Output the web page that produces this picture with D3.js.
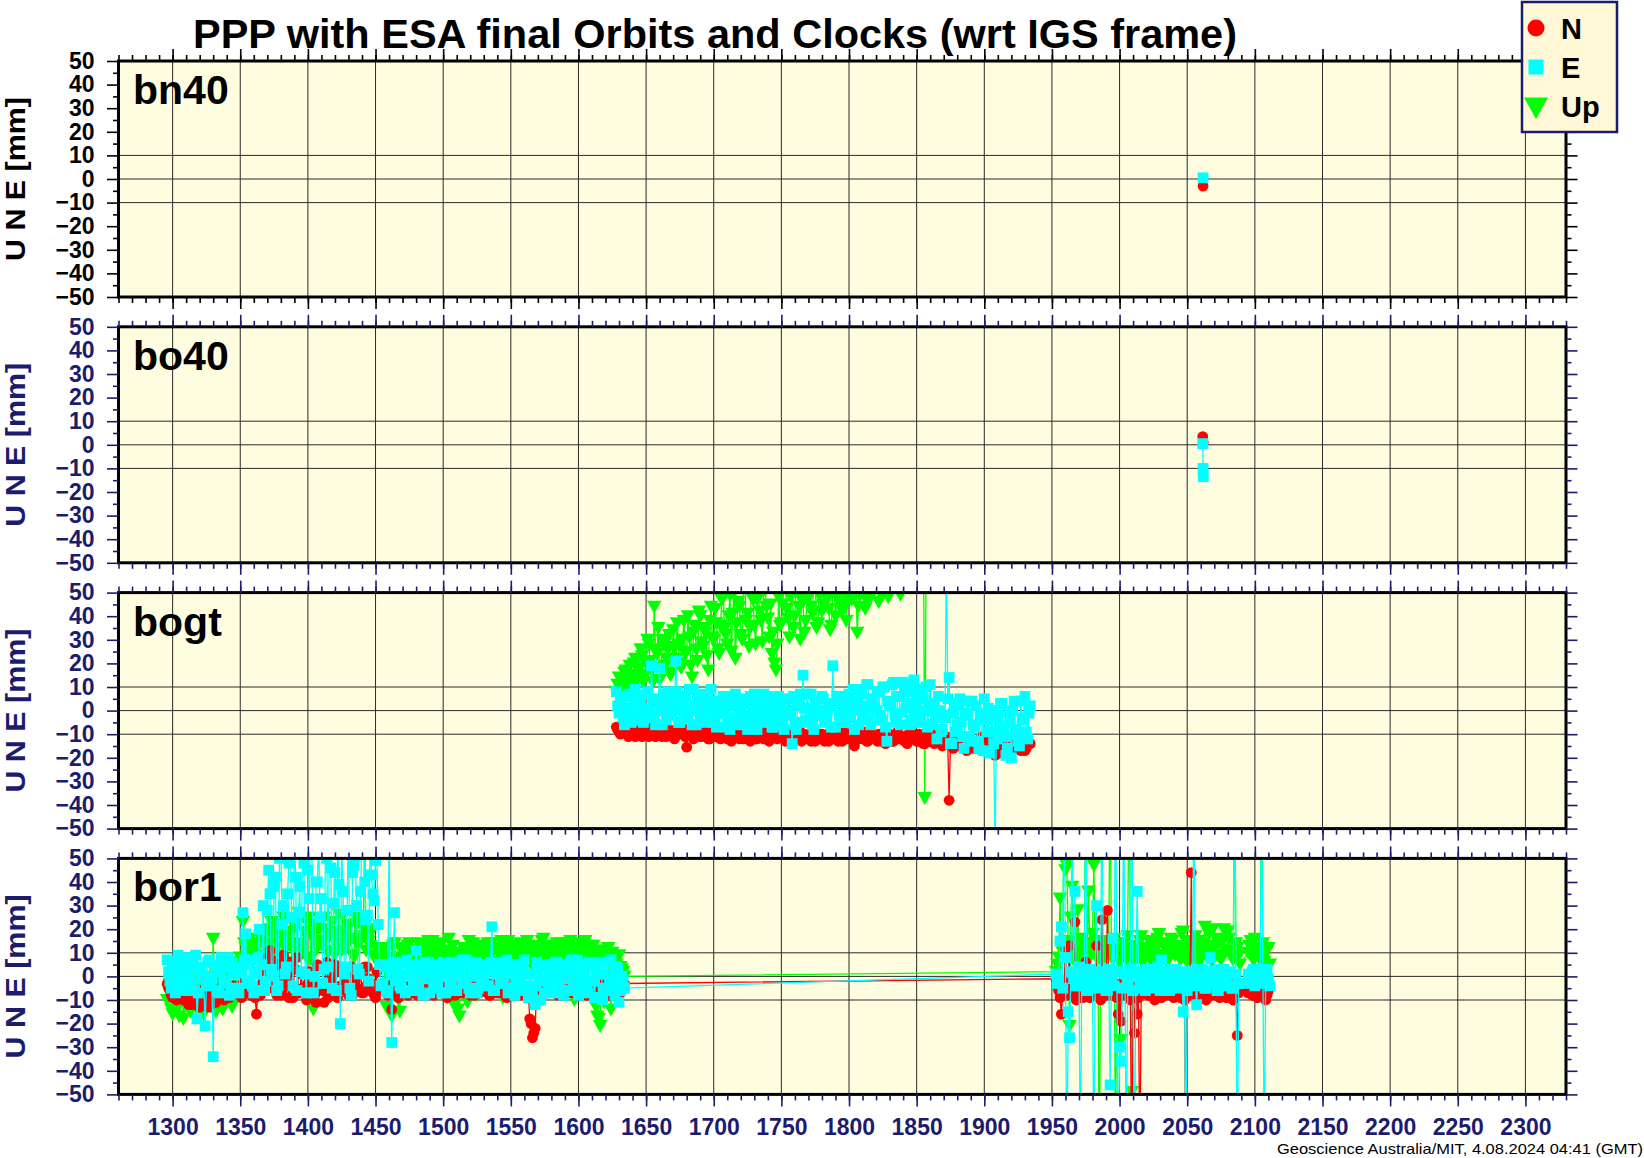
<!DOCTYPE html>
<html><head><meta charset="utf-8">
<script src="https://cdn.jsdelivr.net/npm/d3@7"></script>
<style>body{margin:0;background:#fff;}svg{display:block;}</style>
</head><body>
<script>
// ---------------- DATA ----------------
const titleText = "PPP with ESA final Orbits and Clocks (wrt IGS frame)";
const footerText = "Geoscience Australia/MIT, 4.08.2024 04:41 (GMT)";
const stationNames = ["bn40", "bo40", "bogt", "bor1"];
const legendLabels = ["N", "E", "Up"];
const xDomain = [1260, 2330];
const yDomain = [-50, 50];
const xLabelTicks = [1300,1350,1400,1450,1500,1550,1600,1650,1700,1750,1800,1850,1900,1950,2000,2050,2100,2150,2200,2250,2300];
const yLabelTicks = [-50,-40,-30,-20,-10,0,10,20,30,40,50];
const yGridTicks = [-10, 0, 10];

// bn40
const bn40NWeeks = [2061.7];
const bn40N = [-3];
const bn40EWeeks = [2061.7];
const bn40E = [0.5];

// bo40
const bo40NWeeks = [2061.5, 2061.8];
const bo40N = [3.5, 1];
const bo40EWeeks = [2061.5, 2061.7, 2061.9];
const bo40E = [0.5, -10, -13.5];

// bogt (even GPS weeks)
const bogtWeeks = [1628,1630,1632,1634,1636,1638,1640,1642,1644,1646,
1648,1650,1652,1654,1656,1658,1660,1662,1664,1666,
1668,1670,1672,1674,1676,1678,1680,1682,1684,1686,
1688,1690,1692,1694,1696,1698,1700,1702,1704,1706,
1708,1710,1712,1714,1716,1718,1720,1722,1724,1726,
1728,1730,1732,1734,1736,1738,1740,1742,1744,1746,
1748,1750,1752,1754,1756,1758,1760,1762,1764,1766,
1768,1770,1772,1774,1776,1778,1780,1782,1784,1786,
1788,1790,1792,1794,1796,1798,1800,1802,1804,1806,
1808,1810,1812,1814,1816,1818,1820,1822,1824,1826,
1828,1830,1832,1834,1836,1838,1840,1842,1844,1846,
1848,1850,1852,1854,1856,1858,1860,1862,1864,1866,
1868,1870,1872,1874,1876,1878,1880,1882,1884,1886,
1888,1890,1892,1894,1896,1898,1900,1902,1904,1906,
1908,1910,1912,1914,1916,1918,1920,1922,1924,1926,
1928,1930,1932,1934];
const bogtE = [8,-1,4,-6,6,1,-4,9,-2,3,
-5,7,0,19,-3,5,18,-6,2,8,
-1,4,21,-5,6,0,-3,9,-6,2,
5,-2,7,-5,3,9,-1,-7,4,1,
6,-3,-8,2,7,-4,0,5,-6,3,
-2,7,-8,1,4,-5,6,-1,-7,3,
6,-3,-8,0,5,-14,-6,2,7,15,
-4,1,7,-8,4,-2,6,-5,0,3,
19,-7,3,6,-2,-5,7,0,-8,4,
9,-3,2,11,-6,5,0,8,-4,10,
-13,3,11,-2,6,-6,12,1,8,-4,
13,4,-5,9,0,-7,11,2,-3,6,
-9,-2,70,14,-14,3,-6,5,-11,-1,
4,-13,-6,2,-16,-3,5,-9,-18,0,
-60,-12,3,-7,-19,-1,-20,4,-10,-15,
-4,6,-12,2];
const bogtN = [-7,-9,-6,-8,-10,-7,-9,-11,-8,-10,
-7,-9,-11,-8,-10,-6,-9,-11,-8,-10,
-9,-11,-8,-10,-7,-9,-15.5,-10,-8,-11,
-9,-11,-8,-10,-12,-9,-7,-10,-11,-8,
-10,-12,-9,-7,-11,-10,-8,-12,-9,-11,
-8,-10,-12,-9,-11,-7,-10,-12,-9,-11,
-10,-8,-12,-9,-11,-13,-10,-12,-9,-11,
-12,-10,-13,-9,-11,-12,-10,-13,-11,-9,
-12,-10,-13,-11,-9,-12,-10,-11,-15,-12,
-10,-12,-11,-13,-9,-11,-12,-10,-13,-11,
-12,-10,-13,-11,-9,-12,-11,-13,-10,-12,
-11,-13,-10,-12,-14,-11,-13,-12,-10,-13,
-12,-14,-11,-38,-13,-12,-14,-11,-15,-13,
-14,-12,-16,-13,-15,-11,-17,-14,-12,-16,
-19,-14,-16,-13,-17,-15,-18,-14,-16,-13,
-15,-17,-12,-14];
const bogtU = [8,14,10,16,12,19,9,22,15,26,
12,20,28,17,44,24,13,30,19,26,
15,34,22,28,18,38,25,31,14,36,
21,40,27,33,17,44,30,37,24,47,
35,28,49,41,22,46,32,52,38,27,
54,36,47,42,29,51,39,45,33,17,
48,37,53,43,31,55,40,50,30,46,
38,52,44,57,35,49,42,54,47,34,
51,40,56,45,50,38,53,47,58,33,
49,55,43,60,48,52,57,46,54,50,
56,51,58,53,62,49,66,60,70,64,
68,75,62,70,-37,72,78,66,74,80,
71,77,69,82,75,68,79,73,84,70,
76,81,72,85,78,74,83,69,80,77,
86,72,79,83,75,81,70,78,84,73,
80,76,82,74];

// bogt (odd GPS weeks)
const bogtOddWeeks = [1629,1631,1633,1635,1637,1639,1641,1643,1645,1647,
1649,1651,1653,1655,1657,1659,1661,1663,1665,1667,
1669,1671,1673,1675,1677,1679,1681,1683,1685,1687,
1689,1691,1693,1695,1697,1699,1701,1703,1705,1707,
1709,1711,1713,1715,1717,1719,1721,1723,1725,1727,
1729,1731,1733,1735,1737,1739,1741,1743,1745,1747,
1749,1751,1753,1755,1757,1759,1761,1763,1765,1767,
1769,1771,1773,1775,1777,1779,1781,1783,1785,1787,
1789,1791,1793,1795,1797,1799,1801,1803,1805,1807,
1809,1811,1813,1815,1817,1819,1821,1823,1825,1827,
1829,1831,1833,1835,1837,1839,1841,1843,1845,1847,
1849,1851,1853,1855,1857,1859,1861,1863,1865,1867,
1869,1871,1873,1875,1877,1879,1881,1883,1885,1887,
1889,1891,1893,1895,1897,1899,1901,1903,1905,1907,
1909,1911,1913,1915,1917,1919,1921,1923,1925,1927,
1929,1931,1933];
const bogtEOdd = [2,5,-3,0,7,-5,3,-1,6,-4,
1,8,-2,4,-6,3,0,7,-4,5,
-2,1,8,-5,3,6,-3,0,9,-6,
2,-1,6,-4,4,1,
-5,3,-1,6,-7,2,-3,5,-6,1,
4,-2,-8,6,0,-5,3,-1,7,-4,
2,-7,5,-3,1,-6,4,0,-2,6,
-8,3,-5,1,7,-3,-6,4,0,-1,
5,-4,2,-7,3,6,-2,-5,1,4,
-3,9,2,-6,7,0,11,-4,5,1,
8,-2,10,-7,4,2,12,-5,6,-1,
9,3,-6,11,0,7,-3,5,10,1,
-6,3,-12,0,-8,-3,5,-14,-1,-9,
2,-5,-16,-2,-11,4,-7,-13,-1,-17,
-4,1,-9,-14,-2,-6,3,-11,-16,-5,
0,-8,-13,4,-3,-9,-1];
const bogtNOdd = [-8,-10,-7,-9,-11,-8,-10,-6,-9,-11,
-8,-10,-9,-7,-11,-10,-8,-9,-11,-8,
-10,-12,-9,-7,-10,-11,-8,-9,-12,-10,
-8,-11,-9,-10,-12,-9,
-11,-9,-12,-10,-8,-11,-13,-10,-9,-12,
-10,-11,-9,-13,-10,-12,-11,-9,-12,-10,
-13,-11,-10,-12,-9,-11,-13,-10,-12,-11,
-9,-12,-13,-10,-11,-12,-9,-13,-11,-10,
-12,-11,-13,-10,-12,-9,-11,-13,-12,-10,
-11,-13,-10,-12,-11,-9,-13,-12,-10,-11,
-13,-12,-10,-14,-11,-12,-13,-10,-12,-11,
-13,-14,-11,-12,-10,-13,-12,-14,-11,-13,
-12,-14,-13,-11,-15,-12,-14,-13,-16,-12,
-15,-13,-14,-17,-12,-15,-13,-16,-14,-12,
-17,-15,-13,-16,-14,-18,-13,-15,-17,-14,
-16,-12,-15,-17,-13,-16,-14];
const bogtUOdd = [11,7,13,17,10,15,20,13,18,
23,15,30,21,12,26,35,18,28,22,
32,16,27,37,20,30,24,40,19,33,
26,42,29,35,23,38,31,
43,26,36,48,32,40,25,50,37,44,
30,53,41,35,47,28,49,38,55,44,
31,24,20,28,36,
45,52,39,48,35,56,44,50,33,47,
54,41,58,37,50,45,53,43,36,55,
48,60,42,51,46,
55,49,61,44,53,58,47,63,51,56,
59,50,62,54,48,60,57,52,64,58,
62,68,59,71,65,73,60,77,67,70,
74,66,79,72,76,69,81,73,68,78,
75,83,70,79,74,86,71,80,77,84,
72,79,85,74,81,76,88,73,82,78,
75,84,71,80,77,83,76];

// bor1, first segment (even weeks)
const bor1AWeeks = [1296,1298,1300,1302,1304,1306,1308,1310,1312,1314,
1316,1318,1320,1322,1324,1326,1328,1330,1332,1334,
1336,1338,1340,1342,1344,1346,1348,1350,1352,1354,
1356,1358,1360,1362,1364,1366,1368,1370,1372,1374,
1376,1378,1380,1382,1384,1386,1388,1390,1392,1394,
1396,1398,1400,1402,1404,1406,1408,1410,1412,1414,
1416,1418,1420,1422,1424,1426,1428,1430,1432,1434,
1436,1438,1440,1442,1444,1446,1448,1450,1452,1454,
1456,1458,1460,1462,1464,1466,1468,1470,1472,1474,
1476,1478,1480,1482,1484,1486,1488,1490,1492,1494,
1496,1498,1500,1502,1504,1506,1508,1510,1512,1514,
1516,1518,1520,1522,1524,1526,1528,1530,1532,1534,
1536,1538,1540,1542,1544,1546,1548,1550,1552,1554,
1556,1558,1560,1562,1564,1566,1568,1570,1572,1574,
1576,1578,1580,1582,1584,1586,1588,1590,1592,1594,
1596,1598,1600,1602,1604,1606,1608,1610,1612,1614,
1616,1618,1620,1622,1624,1626,1628,1630,1632,1634];
const bor1AE = [7,-2,3,-7,9,0,-5,5,-3,8,
-6,-18,4,-1,-21,6,-4,-34,2,-7,
8,-2,4,-8,6,1,-5,3,27,18,
-3,7,-7,2,20,5,-6,28,35,0,
42,-4,55,30,4,48,25,60,-6,38,
52,1,45,65,-7,40,58,33,3,50,
62,-5,44,56,-20,36,4,70,-8,47,
30,1,58,40,26,64,35,49,22,-4,
5,-6,60,-28,27,2,-4,6,-7,1,
4,-3,11,-6,2,6,-1,-7,3,5,
-4,0,6,-7,3,-2,5,-6,1,7,
-3,4,-7,2,6,-5,0,5,-4,3,
21,-6,1,6,-3,4,-7,2,5,-2,
-6,3,7,-4,1,-7,-12,4,-10,0,
5,-3,2,-7,6,-1,4,-6,1,7,
-4,3,-8,5,0,-5,6,-2,-9,2,
6,-10,1,-6,7,-3,4,-11,0,-5];
const bor1AN = [-3,-6,-9,-4,-8,-5,-10,-7,-12,-6,
-11,-8,-13,-6,-10,-12,-7,-9,-11,-5,
-8,-10,-6,-9,-4,-7,-5,-8,-3,-6,
-5,-8,-4,-16,-6,-3,2,8,11,-2,
-6,5,-8,9,-4,-9,6,3,8,-7,
-5,2,-3,-9,-6,-11,4,-4,-11,6,
3,-7,5,-9,-4,2,-6,-8,4,1,
-5,3,-7,4,4,-6,-3,-9,-4,-5,
-3,-6,-4,-14,-5,-7,-3,-6,-4,-8,
-5,-7,-3,-6,-8,-4,-6,-3,-7,-5,
-4,-7,-5,-3,-6,-8,-4,-6,-5,-7,
-3,-6,-8,-4,-5,-7,-3,-6,-4,-8,
-5,-3,-7,-4,-6,-8,-5,-3,-6,-4,
-7,-5,-4,-6,-18,-26,-22,-9,-5,-7,
-4,-6,-3,-7,-5,-4,-8,-6,-3,-5,
-7,-4,-6,-5,-3,-8,-4,-6,-7,-5,
-3,-6,-4,-8,-5,-7,-4,-6,-5,-3];
const bor1AU = [-10,-3,-16,2,-13,-7,-18,-2,-12,0,
-8,-14,3,-6,-11,-9,-4,16,-15,1,
-7,-12,4,-5,-13,6,-8,8,23,12,
10,14,7,12,9,15,18,11,20,13,
22,8,17,25,12,19,6,21,14,24,
10,18,22,7,-14,15,20,13,25,11,
17,23,9,19,14,26,12,21,16,8,
22,15,24,60,18,13,20,9,6,4,
12,-13,8,-17,14,3,-15,10,6,13,
5,11,8,14,4,10,12,6,15,9,
7,13,5,11,16,8,-12,10,-17,6,
12,-11,9,14,7,11,5,13,8,10,
14,6,12,9,-9,11,15,7,10,13,
5,12,8,15,10,6,13,9,11,16,
7,12,10,5,14,9,13,6,11,15,
8,12,10,14,-8,9,13,7,11,-17,
-21,10,-6,12,-14,8,5,9,3,0];

// bor1, first segment (odd weeks)
const bor1AOddWeeks = [1297,1299,1301,1303,1305,1307,1309,1311,1313,1315,
1317,1319,1321,1323,1325,1327,1329,1331,1333,1335,
1337,1339,1341,1343,1345,1347,1349,1351,1353,1355,
1357,1359,1361,1363,1365,1367,1369,1371,1373,1375,
1377,1379,1381,1383,1385,1387,1389,1391,1393,1395,
1397,1399,1401,1403,1405,1407,1409,1411,1413,1415,
1417,1419,1421,1423,1425,1427,1429,1431,1433,1435,
1437,1439,1441,1443,1445,1447,1449,1451,1453,1455,
1457,1459,1461,1463,1465,1467,1469,1471,1473,1475,
1477,1479,1481,1483,1485,1487,1489,1491,1493,1495,
1497,1499,1501,1503,1505,1507,1509,1511,1513,1515,
1517,1519,1521,1523,1525,1527,1529,1531,1533,1535,
1537,1539,1541,1543,1545,1547,1549,1551,1553,1555,
1557,1559,1561,1563,1565,1567,1569,1571,1573,1575,
1577,1579,1581,1583,1585,1587,1589,1591,1593,1595,
1597,1599,1601,1603,1605,1607,1609,1611,1613,1615,
1617,1619,1621,1623,1625,1627,1629,1631,1633];
const bor1AEOdd = [2,-5,6,-3,4,8,-6,1,-2,5,
9,-7,3,0,-4,7,-1,5,-6,2,
6,-3,8,-5,1,4,-7,2,7,-2,
5,-4,1,8,-6,
30,-2,45,3,38,-6,50,22,1,35,
58,-4,42,27,2,48,-7,33,53,0,
40,25,-3,57,4,46,31,-6,39,55,
1,28,-5,44,51,3,36,62,24,-2,
43,32,52,5,
-3,4,-7,1,6,-2,3,-5,0,7,
-6,2,5,-4,1,-8,4,6,-1,-5,
3,0,-7,5,2,-3,6,-6,1,4,
-2,7,-5,0,3,-7,5,-1,2,-4,
6,-6,1,4,-3,0,7,-5,2,-8,
3,-1,5,-6,-9,1,-4,6,-2,3,
-7,4,0,-5,6,-3,2,-8,5,-1,
3,-6,7,0,-4,2,-7,5,-2,4,
-9,1,-5,6,-3,0,-8,3,-6,-2];
const bor1ANOdd = [-5,-8,-4,-10,-7,-6,-9,-11,-8,-12,
-9,-7,-12,-10,-8,-13,-6,-11,-9,-7,
-6,-9,-5,-8,-7,-4,-6,-9,-5,-7,
-4,-7,-9,-5,-8,
-2,4,-5,7,-3,-8,5,-6,-2,6,
-4,-9,3,-7,1,-5,-10,2,-3,-8,
5,-4,-6,3,-9,-2,1,-7,-5,2,
-3,-6,4,-8,-2,-5,3,-7,-4,-1,
-6,-8,2,-5,
-6,-4,-8,-5,-3,-7,-9,-4,-6,-5,
-7,-3,-6,-8,-4,-5,-7,-6,-3,-8,
-5,-4,-7,-6,-9,-3,-5,-8,-4,-6,
-7,-5,-3,-6,-8,-4,-7,-5,-6,-3,
-8,-4,-6,-7,-5,-3,-9,-6,-4,-7,
-5,-8,-6,-4,-7,-20,-24,-6,-5,-8,
-4,-7,-6,-3,-5,-8,-4,-6,-7,-5,
-3,-6,-8,-4,-7,-5,-6,-3,-8,-4,
-6,-5,-7,-4,-8,-6,-3,-5,-7,-4];
const bor1AUOdd = [-6,-14,-1,-9,-17,-4,-11,-7,-15,-2,
-12,-5,-9,-16,0,-8,-13,-3,-10,-6,
-14,-1,-9,-4,-11,2,-7,5,14,9,
16,11,13,8,17,
14,19,10,23,16,12,20,9,24,15,
18,11,22,27,13,19,8,25,17,21,
12,24,15,20,10,23,18,14,26,11,
19,16,22,9,25,13,17,21,11,15,
20,8,12,5,
9,-6,11,6,13,8,-10,12,7,10,
14,5,11,9,13,6,10,15,8,12,
4,11,14,7,-9,10,13,6,-14,9,
12,8,15,6,11,-8,13,10,7,14,
9,12,5,11,15,8,13,10,6,12,
9,14,7,11,13,5,10,12,8,15,
11,7,13,9,12,6,14,10,8,13,
11,-10,9,12,6,15,10,7,13,-13,
-18,8,-11,11,-7,10,6,8,4,2];

// bor1, second segment (odd weeks of this block)
const bor1BWeeks = [1953,1955,1957,1959,1961,1963,1965,1967,1969,1971,
1973,1975,1977,1979,1981,1983,1985,1987,1989,1991,
1993,1995,1997,1999,2001,2003,2005,2007,2009,2011,
2013,2015,2017,2019,2021,2023,2025,2027,2029,2031,
2033,2035,2037,2039,2041,2043,2045,2047,2049,2051,
2053,2055,2057,2059,2061,2063,2065,2067,2069,2071,
2073,2075,2077,2079,2081,2083,2085,2087,2089,
2095,2097,2099,2101,2103,2105,2107,2109,2111];
const bor1BE = [1,-2,21,90,-90,-26,80,36,-4,-85,
3,95,-5,2,-80,30,-3,85,1,-6,
-46,16,90,-90,-36,80,-85,2,90,-90,
36,-4,1,-6,3,-2,-5,2,-3,7,
-4,1,-6,3,-2,-5,2,-15,-85,-3,
2,85,-12,-2,3,-5,1,8,-3,2,
-6,0,3,-4,1,-5,90,-90,-3,
1,-3,3,-2,2,80,-80,3,-4];
const bor1BN = [-1,-6,-16,-4,-8,13,-5,23,-7,-3,
-9,6,-4,-8,-5,13,-7,24,-4,28,
-6,-8,-3,-16,-19,-7,-4,-8,-85,-24,
-16,-85,-6,-4,-8,-5,-3,-7,-6,-9,
-4,-7,-5,-8,-3,-6,-9,-5,-85,-7,
44,-4,-8,-5,-7,-3,-9,-6,-4,-8,
-5,-7,-3,-9,-6,-4,-7,-25,-5,
-7,-4,-8,-6,-3,-7,-5,-8,-4];
const bor1BU = [2,8,12,85,47,-21,38,10,28,6,
14,95,36,9,47,12,-85,15,8,13,
85,10,-80,14,-27,11,7,90,-49,12,
8,15,6,11,9,14,7,12,18,8,
13,6,11,15,9,12,7,19,10,14,
8,12,6,15,10,21,8,13,20,9,
14,7,20,11,16,8,90,12,5,
10,15,7,12,9,85,6,11,5];

// bor1, second segment (even weeks of this block)
const bor1BEvenWeeks = [1954,1956,1958,1960,1962,1964,1966,1968,1970,1972,
1974,1976,1978,1980,1982,1984,1986,1988,1990,1992,
1994,1996,1998,2000,2002,2004,2006,2008,2010,2012,
2014,2016,2018,2020,2022,2024,2026,2028,2030,2032,
2034,2036,2038,2040,2042,2044,2046,2048,2050,2052,
2054,2056,2058,2060,2062,2064,2066,2068,2070,2072,
2074,2076,2078,2080,2082,2084,2086,2088,
2096,2098,2100,2102,2104,2106,2108,2110];
const bor1BEEven = [-3,15,-5,8,-15,2,-1,-4,4,-2,
0,-6,3,-3,1,-5,2,-2,-6,3,
-1,-4,2,-30,-5,1,-3,3,-6,0,
2,-5,-1,3,-4,0,-2,4,-6,1,
-3,2,-5,0,3,-4,1,-2,-6,2,
-1,-4,3,-2,0,-5,2,-3,1,-6,
3,-2,0,-4,2,-5,1,-3,
-2,2,-4,0,3,-3,1,-1];
const bor1BNEven = [-4,-9,-6,12,-3,-7,-5,-10,-4,-8,
-6,-3,-9,-5,-7,-4,-10,-6,-8,-5,
-7,-4,-9,-6,-3,-8,-5,-10,-7,-4,
-9,-5,-7,-3,-8,-6,-10,-4,-7,-5,
-8,-6,-3,-9,-5,-7,-4,-10,-6,-8,
-5,-9,-3,-7,-6,-10,-4,-8,-5,-7,
-9,-4,-6,-8,-3,-10,-5,-7,
-5,-8,-3,-9,-6,-4,-10,-6];
const bor1BUEven = [5,33,10,45,15,25,7,13,9,16,
11,6,14,18,9,12,7,15,10,13,
8,16,11,6,14,9,17,12,7,13,
10,17,8,12,15,6,11,16,9,14,
12,7,16,10,13,8,18,11,6,15,
9,17,12,7,14,11,18,6,13,16,
8,15,11,19,10,7,14,9,
13,8,16,11,7,14,10,12];

// ---------------- LAYOUT / STYLE ----------------
const W = 1644, H = 1158;
const FONT = '"Liberation Sans", Arial, Helvetica, sans-serif';
const NAVY = "#1c1c6e";
const BG = "#fefde0";
const COLORS = {N: "#ff0000", E: "#00ffff", U: "#00ff00"};
const panelLeft = 118.5, panelRight = 1566, panelH = 236, panelStep = 265.8, firstTop = 61;

function pts(...pairs) {
  let all = [];
  for (let k = 0; k < pairs.length; k += 2) all = all.concat(d3.zip(pairs[k], pairs[k + 1]));
  return d3.sort(all, d => d[0]);
}

const seriesByStation = {
  bn40: [
    {key: "N", pts: pts(bn40NWeeks, bn40N)},
    {key: "E", pts: pts(bn40EWeeks, bn40E)}
  ],
  bo40: [
    {key: "N", pts: pts(bo40NWeeks, bo40N)},
    {key: "E", pts: pts(bo40EWeeks, bo40E)}
  ],
  bogt: [
    {key: "U", pts: pts(bogtWeeks, bogtU, bogtOddWeeks, bogtUOdd)},
    {key: "N", pts: pts(bogtWeeks, bogtN, bogtOddWeeks, bogtNOdd)},
    {key: "E", pts: pts(bogtWeeks, bogtE, bogtOddWeeks, bogtEOdd)}
  ],
  bor1: [
    {key: "U", pts: pts(bor1AWeeks, bor1AU, bor1AOddWeeks, bor1AUOdd, bor1BWeeks, bor1BU, bor1BEvenWeeks, bor1BUEven)},
    {key: "N", pts: pts(bor1AWeeks, bor1AN, bor1AOddWeeks, bor1ANOdd, bor1BWeeks, bor1BN, bor1BEvenWeeks, bor1BNEven)},
    {key: "E", pts: pts(bor1AWeeks, bor1AE, bor1AOddWeeks, bor1AEOdd, bor1BWeeks, bor1BE, bor1BEvenWeeks, bor1BEEven)}
  ]
};

const svg = d3.select("body").append("svg")
  .attr("width", W).attr("height", H)
  .attr("font-family", FONT);
svg.append("rect").attr("width", W).attr("height", H).attr("fill", "#fff");

const x = d3.scaleLinear().domain(xDomain).range([panelLeft, panelRight]);
const minorX = d3.range(xDomain[0], xDomain[1] + 1, 10);
const minorY = d3.range(-45, 50, 10);
const fmtY = d => d < 0 ? "\u2212" + Math.abs(d) : String(d);

function drawMarkers(sel, key, data, xs, ys) {
  const c = COLORS[key];
  if (key === "N") {
    sel.selectAll("circle").data(data).join("circle")
      .attr("cx", d => xs(d[0])).attr("cy", d => ys(d[1])).attr("r", 5.4)
      .attr("fill", c);
  } else if (key === "E") {
    sel.selectAll("rect").data(data).join("rect")
      .attr("x", d => xs(d[0]) - 5.4).attr("y", d => ys(d[1]) - 5.4)
      .attr("width", 10.8).attr("height", 10.8).attr("fill", c);
  } else {
    sel.selectAll("path").data(data).join("path")
      .attr("d", d => {
        const px = xs(d[0]), py = ys(d[1]);
        return `M${px - 7.3},${py - 6}L${px + 7.3},${py - 6}L${px},${py + 7}Z`;
      })
      .attr("fill", c);
  }
}

stationNames.forEach((name, i) => {
  const T = firstTop + i * panelStep, B = T + panelH;
  const y = d3.scaleLinear().domain(yDomain).range([B, T]);
  const col = i === 0 ? "#000" : NAVY;
  const g = svg.append("g");

  g.append("rect").attr("x", panelLeft).attr("y", T)
    .attr("width", panelRight - panelLeft).attr("height", panelH).attr("fill", BG);

  // grid
  g.append("g").selectAll("line").data(xLabelTicks).join("line")
    .attr("x1", d => x(d)).attr("x2", d => x(d)).attr("y1", T).attr("y2", B)
    .attr("stroke", "#2a2a2a").attr("stroke-width", 1);
  g.append("g").selectAll("line").data(yGridTicks).join("line")
    .attr("x1", panelLeft).attr("x2", panelRight).attr("y1", d => y(d)).attr("y2", d => y(d))
    .attr("stroke", "#2a2a2a").attr("stroke-width", 1);

  // data
  const clipId = "clip" + i;
  svg.append("clipPath").attr("id", clipId).append("rect")
    .attr("x", panelLeft).attr("y", T).attr("width", panelRight - panelLeft).attr("height", panelH);
  const dg = g.append("g").attr("clip-path", `url(#${clipId})`);
  const line = d3.line().x(d => x(d[0])).y(d => y(d[1]));
  seriesByStation[name].forEach(s => {
    const sg = dg.append("g");
    sg.append("path").datum(s.pts).attr("d", line)
      .attr("fill", "none").attr("stroke", COLORS[s.key]).attr("stroke-width", 1.3);
    drawMarkers(sg.append("g"), s.key, s.pts, x, y);
  });

  // frame
  g.append("rect").attr("x", panelLeft).attr("y", T)
    .attr("width", panelRight - panelLeft).attr("height", panelH)
    .attr("fill", "none").attr("stroke", "#000").attr("stroke-width", 3);

  // axes
  const styleAxis = (a, showText) => {
    a.select(".domain").remove();
    a.attr("color", col).attr("font-family", FONT).attr("font-size", 23).attr("font-weight", "bold");
    a.selectAll(".tick line").attr("stroke-width", 1.6);
    if (!showText) a.selectAll(".tick text").remove();
  };
  g.append("g").attr("transform", `translate(${panelLeft},0)`)
    .call(d3.axisLeft(y).tickValues(yLabelTicks).tickSize(11.5).tickPadding(12.5).tickFormat(fmtY))
    .call(a => styleAxis(a, true));
  g.append("g").attr("transform", `translate(${panelLeft},0)`)
    .call(d3.axisLeft(y).tickValues(minorY).tickSize(5.5).tickFormat(""))
    .call(a => styleAxis(a, false));
  g.append("g").attr("transform", `translate(${panelRight},0)`)
    .call(d3.axisRight(y).tickValues(yLabelTicks).tickSize(11.5).tickFormat(""))
    .call(a => styleAxis(a, false));
  g.append("g").attr("transform", `translate(${panelRight},0)`)
    .call(d3.axisRight(y).tickValues(minorY).tickSize(5.5).tickFormat(""))
    .call(a => styleAxis(a, false));
  g.append("g").attr("transform", `translate(0,${T})`)
    .call(d3.axisTop(x).tickValues(minorX).tickSize(6).tickFormat(""))
    .call(a => styleAxis(a, false));
  g.append("g").attr("transform", `translate(0,${T})`)
    .call(d3.axisTop(x).tickValues(xLabelTicks).tickSize(12).tickFormat(""))
    .call(a => styleAxis(a, false));
  g.append("g").attr("transform", `translate(0,${B})`)
    .call(d3.axisBottom(x).tickValues(minorX).tickSize(6).tickFormat(""))
    .call(a => styleAxis(a, false));
  const last = i === stationNames.length - 1;
  g.append("g").attr("transform", `translate(0,${B})`)
    .call(d3.axisBottom(x).tickValues(xLabelTicks).tickSize(12).tickPadding(12).tickFormat(d3.format("d")))
    .call(a => styleAxis(a, last));

  // y axis title
  g.append("text")
    .attr("transform", `translate(25,${T + panelH / 2}) rotate(-90)`)
    .attr("text-anchor", "middle").attr("font-size", 28).attr("font-weight", "bold")
    .attr("fill", col).attr("textLength", 164).attr("lengthAdjust", "spacingAndGlyphs")
    .text("U N E [mm]");

  // station label
  g.append("text").attr("x", 133).attr("y", T + 43)
    .attr("font-size", 41).attr("font-weight", "bold").attr("fill", "#000").text(name);
});

// title
svg.append("text").attr("x", 193).attr("y", 48)
  .attr("font-size", 41).attr("font-weight", "bold").attr("fill", "#000")
  .attr("textLength", 1044).attr("lengthAdjust", "spacingAndGlyphs").text(titleText);

// legend
const lg = svg.append("g");
lg.append("rect").attr("x", 1522).attr("y", 2).attr("width", 95).attr("height", 130)
  .attr("fill", "#fff7d6").attr("stroke", NAVY).attr("stroke-width", 2.5);
lg.append("circle").attr("cx", 1536).attr("cy", 28).attr("r", 8.5).attr("fill", COLORS.N);
lg.append("rect").attr("x", 1528.5).attr("y", 59.5).attr("width", 15).attr("height", 15).attr("fill", COLORS.E);
lg.append("path").attr("d", "M1524,97.5L1548,97.5L1536,119Z").attr("fill", COLORS.U);
const legendY = [39, 78, 117];
lg.selectAll("text").data(legendLabels).join("text")
  .attr("x", 1561).attr("y", (d, k) => legendY[k])
  .attr("font-size", 29).attr("font-weight", "bold").attr("fill", "#000").text(d => d);

// footer
svg.append("text").attr("x", 1643).attr("y", 1154).attr("text-anchor", "end")
  .attr("font-size", 15).attr("fill", "#000")
  .attr("textLength", 366).attr("lengthAdjust", "spacingAndGlyphs").text(footerText);
</script>
</body></html>
